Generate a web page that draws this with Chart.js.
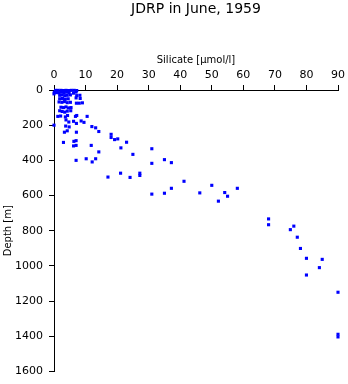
<!DOCTYPE html>
<html>
<head>
<meta charset="utf-8">
<script src="https://cdn.jsdelivr.net/npm/chart.js@4"></script>
<style>
html,body{margin:0;padding:0;background:#fff;}
canvas{display:block;}
</style>
</head>
<body>
<canvas id="c" width="348" height="384"></canvas>
<script>
const chartTitle = 'JDRP in June, 1959';
const xTitle = 'Silicate [µmol/l]';
const yTitle = 'Depth [m]';
const xTicks = [0, 10, 20, 30, 40, 50, 60, 70, 80, 90];
const yTicks = [0, 200, 400, 600, 800, 1000, 1200, 1400, 1600];

const silicate = [
  0.5,1.3,2.2,3.0,3.8,4.6,5.5,6.4,7.2,0.0,
  0.1,0.8,1.6,2.4,3.2,4.0,4.8,6.2,7.0,
  1.8,2.6,3.4,4.2,5.2,7.2,8.2,
  1.8,2.7,3.6,4.5,7.0,8.3,
  1.6,2.5,3.3,4.2,5.2,7.1,8.0,9.0,
  2.2,3.0,3.8,4.6,5.4,
  1.8,2.6,3.4,4.2,5.3,
  1.2,2.1,3.6,4.3,6.8,7.2,10.5,
  3.8,4.7,6.2,7.1,8.6,9.5,
  0.0,3.7,4.8,12.0,13.2,14.2,3.3,4.2,7.1,
  3.0,6.3,7.0,6.2,7.0,11.8,
  14.2,18.1,18.1,19.2,20.2,23.0,21.2,25.0,31.0,
  10.2,7.0,13.2,12.1,31.0,35.0,37.2,
  21.1,17.1,24.1,27.2,27.2,41.2,
  31.0,35.0,37.2,46.2,50.0,54.1,55.0,52.1,58.1,
  68.0,68.0,76.0,74.9,77.1,78.1,80.0,85.0,84.1,80.0,
  90.0,90.0,90.0
];
const depth = [
  2,2,2,3,2,3,2,2,3,22,
  12,15,15,12,15,12,15,18,12,
  30,28,32,30,28,32,30,
  50,48,52,50,45,48,
  68,70,66,72,70,75,75,73,
  98,100,96,102,100,
  118,122,126,120,118,
  150,148,153,145,150,145,150,
  170,182,178,190,176,184,
  200,205,210,208,215,236,240,232,240,
  298,292,288,318,315,315,
  352,252,270,282,278,297,329,366,334,
  391,400,391,409,417,396,413,
  473,495,497,473,486,519,
  592,587,559,585,542,583,604,632,559,
  733,766,774,794,837,901,957,963,1010,1052,
  1150,1389,1404
];

const points = silicate.map((s, i) => ({ x: s, y: depth[i] }));
const FONT = 'DejaVu Sans';

new Chart(document.getElementById('c'), {
  type: 'scatter',
  data: {
    datasets: [{
      data: points,
      pointStyle: 'rect',
      radius: 2.2,
      hoverRadius: 2.2,
      borderWidth: 0,
      backgroundColor: '#0000ff',
      borderColor: '#0000ff',
      clip: false
    }]
  },
  options: {
    responsive: false,
    devicePixelRatio: 1,
    animation: false,
    events: [],
    layout: { padding: { left: 0, right: 9, top: 0, bottom: 9 }, autoPadding: false },
    plugins: {
      legend: { display: false },
      tooltip: { enabled: false },
      title: {
        display: true,
        text: chartTitle,
        fullSize: false,
        color: '#000',
        font: { family: FONT, size: 14, weight: 'normal' },
        padding: { top: 1, bottom: 3 }
      }
    },
    scales: {
      x: {
        type: 'linear',
        position: 'top',
        min: xTicks[0],
        max: xTicks[xTicks.length - 1],
        afterBuildTicks: s => { s.ticks = xTicks.map(v => ({ value: v })); },
        afterFit: s => { s.height = 69.2; },
        ticks: { color: '#000', font: { family: FONT, size: 11 }, padding: 3, maxRotation: 0, autoSkip: false, callback: v => String(v) },
        grid: { display: true, drawOnChartArea: false, drawTicks: true, tickLength: 5, color: '#000', lineWidth: 1 },
        border: { display: true, color: '#000', width: 1 },
        title: { display: true, text: xTitle, color: '#000', font: { family: FONT, size: 10 }, padding: { top: 33.5, bottom: 0 } }
      },
      y: {
        type: 'linear',
        position: 'left',
        reverse: true,
        min: yTicks[0],
        max: yTicks[yTicks.length - 1],
        afterBuildTicks: s => { s.ticks = yTicks.map(v => ({ value: v })); },
        afterFit: s => { s.width = 54; },
        ticks: { color: '#000', font: { family: FONT, size: 11 }, padding: 6, autoSkip: false, callback: v => String(v) },
        grid: { display: true, drawOnChartArea: false, drawTicks: true, tickLength: 5, color: '#000', lineWidth: 1 },
        border: { display: true, color: '#000', width: 1 },
        title: { display: true, text: yTitle, color: '#000', font: { family: FONT, size: 10 }, padding: { top: 2, bottom: 0 } }
      }
    }
  }
});
</script>
</body>
</html>
